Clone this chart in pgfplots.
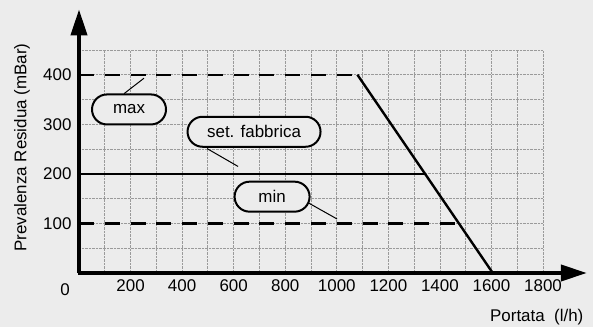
\documentclass[border=0pt]{standalone}
\usepackage{pgfplots}
\pgfplotsset{compat=1.18}
\usepackage{fontspec}
\setmainfont{Liberation Sans}
\usetikzlibrary{arrows.meta,shapes.misc}
\definecolor{bg}{HTML}{ECECEC}
\definecolor{gridc}{HTML}{9A9A9A}
\newcommand{\fs}{\fontsize{17}{19}\selectfont}
\begin{document}
\begin{tikzpicture}
\fill[bg] (-79bp,-54bp) rectangle (514bp,273bp);
\begin{axis}[
  at={(0,0)}, anchor=origin,
  x=0.2578bp, y=0.4956bp,
  xmin=0, xmax=1800, ymin=0, ymax=450,
  enlargelimits=false, clip=false,
  axis line style={draw=none},
  tick style={draw=none},
  xtick={200,400,...,1800},
  minor xtick={100,300,...,1700},
  ytick={100,200,300,400},
  minor ytick={50,150,250,350,450},
  grid=both,
  major grid style={gridc, densely dotted, line width=0.8bp},
  minor grid style={gridc, densely dotted, line width=0.8bp},
  /pgf/number format/assume math mode=true,
  /pgf/number format/1000 sep={},
  ticklabel style={font=\fs},
  xticklabel style={yshift=-3bp},
  yticklabel style={xshift=-4bp},
]
% curves
\addplot[black, line width=2.4bp, dash pattern=on 15bp off 10.78bp] coordinates {(0,400) (1080,400)};
\addplot[black, line width=2.4bp] coordinates {(0,200) (1342,200)};
\addplot[black, line width=2.4bp, dash pattern=on 15bp off 10.78bp] coordinates {(0,100) (1474,100)};
\addplot[black, line width=2.4bp] coordinates {(1080,400) (1605,0)};
% axes arrows
\draw[black, line width=4bp, -{Triangle[length=26bp,width=16bp]}] (axis cs:0,0) -- (axis cs:0,532);
\draw[black, line width=4bp, -{Triangle[length=26bp,width=16bp]}] (axis cs:-5,0) -- (axis cs:1970,0);
% leader lines
\draw[black, line width=1bp] (axis cs:175,362) -- (axis cs:252,393);
\draw[black, line width=1bp] (axis cs:497,251) -- (axis cs:617,215);
\draw[black, line width=1bp] (axis cs:888,142) -- (axis cs:1001,109);
% label boxes
\node[rounded rectangle, draw=black, line width=2bp, fill=bg, minimum width=74bp, minimum height=30bp, inner sep=0pt, font=\fs] at (axis cs:194,330) {max};
\node[rounded rectangle, draw=black, line width=2bp, fill=bg, minimum width=133bp, minimum height=30bp, inner sep=0pt, font=\fs] at (axis cs:679,285) {set. fabbrica};
\node[rounded rectangle, draw=black, line width=2bp, fill=bg, minimum width=75bp, minimum height=30bp, inner sep=0pt, font=\fs] at (axis cs:749,154) {min};
% extra labels
\node[font=\fs] at (axis cs:-54,-34) {0};
\node[font=\fs, rotate=90] at (axis cs:-221,253) {Prevalenza Residua (mBar)};
\node[font=\fs, anchor=east] at (axis cs:1970,-89) {Portata\ \ (l/h)};
\end{axis}
\pgfresetboundingbox
\path (-79bp,-54bp) rectangle (514bp,273bp);
\end{tikzpicture}
\end{document}
